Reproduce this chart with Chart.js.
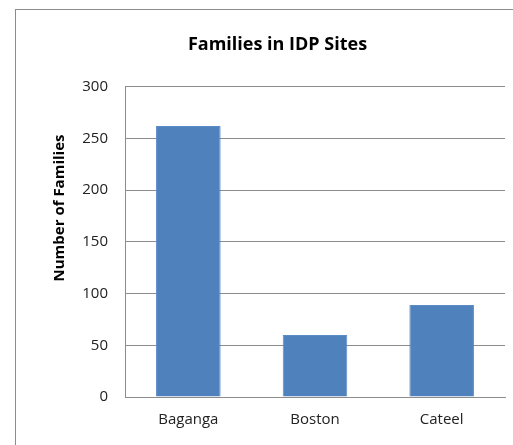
<!DOCTYPE html>
<html lang="en">
<head>
    <meta charset="UTF-8">
    <title>Families in IDP Sites</title>
    <script src="https://cdn.jsdelivr.net/npm/chart.js"></script>
    <style>
        html, body { margin: 0; padding: 0; background: #fff; overflow: hidden; }
        #wrap { position: relative; width: 513px; height: 445px; }
        #frame { position: absolute; left: 15px; top: 9px; width: 600px; height: 600px; border: 1px solid #8c8c8c; box-sizing: border-box; }
        #chart { position: absolute; left: 0; top: 0; }
    </style>
</head>
<body>
    <div id="wrap">
        <div id="frame"></div>
        <canvas id="chart" width="513" height="445"></canvas>
    </div>

    <script>
        const categories = ['Baganga', 'Boston', 'Cateel'];
        const families = [262, 60, 89];
        const yTicks = [0, 50, 100, 150, 200, 250, 300];
        const yTitle = 'Number of Families';

        const font = "'Open Sans', 'Liberation Sans', sans-serif";

        // y axis title sits a bit above the plot centre, like in the Excel original
        const yTitlePlugin = {
            id: 'yTitle',
            afterDraw(chart) {
                const c = chart.ctx;
                c.save();
                c.translate(60, 208);
                c.rotate(-Math.PI / 2);
                c.font = `bold 15px ${font}`;
                c.fillStyle = '#000';
                c.textAlign = 'center';
                c.textBaseline = 'middle';
                c.fillText(yTitle, 0, 0);
                c.restore();
            }
        };

        const ctx = document.getElementById('chart').getContext('2d');
        new Chart(ctx, {
            type: 'bar',
            data: {
                labels: categories,
                datasets: [{
                    label: yTitle,
                    data: families,
                    backgroundColor: '#4F81BD',
                    borderColor: '#5B8CC6',
                    borderWidth: 1,
                    categoryPercentage: 1,
                    barPercentage: 0.51
                }]
            },
            options: {
                responsive: false,
                animation: false,
                layout: { padding: { left: 50, right: 8, top: 0, bottom: 0 } },
                plugins: {
                    legend: { display: false },
                    tooltip: { enabled: false },
                    title: {
                        display: true,
                        text: 'Families in IDP Sites',
                        color: '#000',
                        font: { family: font, size: 18, weight: 'bold' },
                        padding: { top: 34, bottom: 31 }
                    }
                },
                scales: {
                    x: {
                        grid: { display: false, drawTicks: false },
                        border: { display: true, color: '#8c8c8c' },
                        ticks: { color: '#222', font: { family: font, size: 15 }, padding: 14 },
                        afterFit: s => { s.height = 48; }
                    },
                    y: {
                        min: 0,
                        max: 300,
                        afterBuildTicks: s => { s.ticks = yTicks.map(v => ({ value: v })); },
                        grid: { color: '#8c8c8c', drawTicks: false },
                        border: { display: true, color: '#8c8c8c' },
                        ticks: { color: '#222', font: { family: font, size: 15 }, padding: 17 },
                        afterFit: s => { s.width = 75; }
                    }
                }
            },
            plugins: [yTitlePlugin]
        });
    </script>
</body>
</html>
